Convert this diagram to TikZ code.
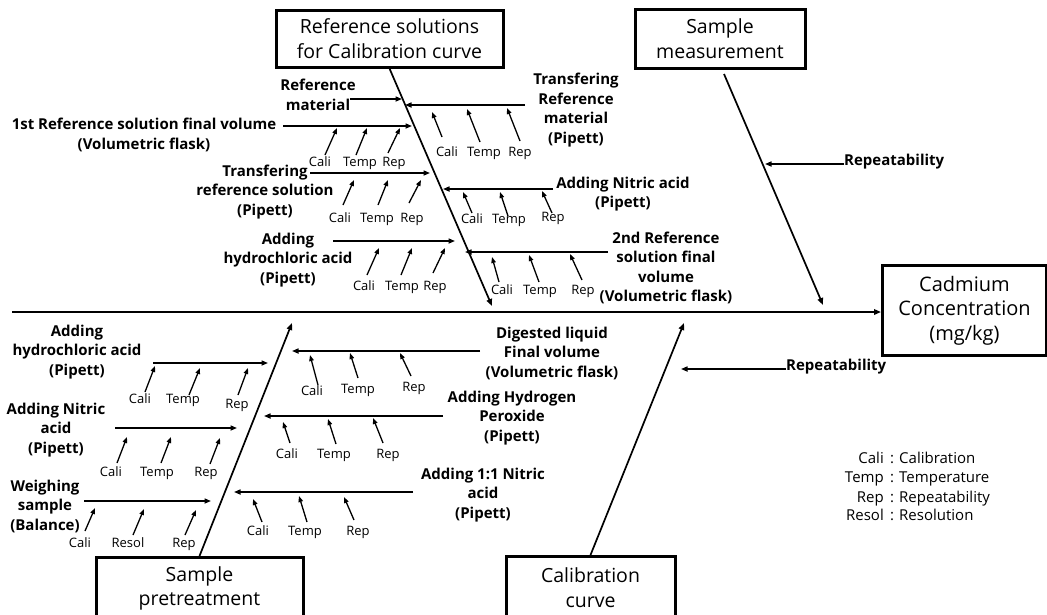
\documentclass[tikz,border=0pt]{standalone}
\usepackage{fontspec}
\setmainfont{Open Sans}
\usetikzlibrary{arrows.meta}
\newcommand\subar[5]{\coordinate (#1s) at (#2,#3); \coordinate (#1e) at (#4,#5); \draw[sub] (#1s) -- (#1e);}
\newcommand\tickar[5]{\coordinate (#1s) at (#2,#3); \coordinate (#1e) at (#4,#5); \draw[tk] (#1s) -- (#1e);}
\begin{document}
\begin{tikzpicture}[x=1pt,y=-1pt,
  lbl/.style={font=\bfseries\fontsize{15}{19.5}\selectfont, align=center, inner sep=0pt},
  sm/.style={font=\fontsize{13}{15}\selectfont, inner sep=0pt, anchor=mid},
  leg/.style={font=\fontsize{15}{19}\selectfont, inner sep=0pt},
  boxn/.style={draw, line width=3pt, font=\fontsize{19.5}{24.5}\selectfont, align=center, inner sep=0pt},
  bone/.style={line width=1.7pt, -{Triangle[length=7pt,width=5.5pt]}},
  sub/.style={line width=1.5pt, -{Triangle[length=6.5pt,width=5pt]}},
  tk/.style={line width=1.3pt, -{Triangle[length=6pt,width=4.5pt]}}]
\useasboundingbox (0,0) rectangle (1047,614);

% main boxes
\node[boxn, minimum width=227, minimum height=57] (ref) at (389.5,38.5) {Reference solutions\\for Calibration curve};
\node[boxn, minimum width=170, minimum height=59] (meas) at (720,38.5) {Sample\\measurement};
\node[boxn, minimum width=207, minimum height=62, anchor=north] (pre) at (199.5,556) {Sample\\pretreatment};
\node[boxn, minimum width=169, minimum height=62, anchor=north] (cal) at (590.5,555) {Calibration\\curve};
\node[boxn, font=\fontsize{20}{24.5}\selectfont, minimum width=164, minimum height=90, anchor=north west] (cad) at (881,264) {Cadmium\\Concentration\\(mg/kg)};

% spine and bones
\coordinate (spL) at (12,312);
\draw[bone] (spL) -- (spL -| cad.west);
\coordinate (refTip) at (492,306);
\draw[bone] (ref.south) -- (refTip);
\coordinate (measS) at (724,74);
\coordinate (measTip) at (823,305);
\draw[bone] (measS) -- (measTip);
\coordinate (preTip) at (292,323);
\draw[bone] (pre.north) -- (preTip);
\coordinate (calTip) at (684,323);
\draw[bone] (cal.north) -- (calTip);

% repeatability
\node[lbl, anchor=mid west] (rep1) at (844,163) {Repeatability};
\coordinate (rep1t) at (765,164);
\draw[sub] (rep1t -| rep1.west) -- (rep1t);
\node[lbl, anchor=mid west] (rep2) at (786,368) {Repeatability};
\coordinate (rep2t) at (681,369);
\draw[sub] (rep2t -| rep2.west) -- (rep2t);

% labels of sub-causes
\node[lbl] (la) at (318,95) {Reference\\material};
\node[lbl] (lb) at (144,135) {1st Reference solution final volume\\(Volumetric flask)};
\node[lbl] (lc) at (265,192) {Transfering\\reference solution\\(Pipett)};
\node[lbl] (ld) at (288,260) {Adding\\hydrochloric acid\\(Pipett)};
\node[lbl] (le) at (576,110) {Transfering\\Reference\\material\\(Pipett)};
\node[lbl] (lf) at (623,194) {Adding Nitric acid\\(Pipett)};
\node[lbl] (lg) at (666,268) {2nd Reference\\solution final\\volume\\(Volumetric flask)};
\node[lbl] (lh) at (77,352) {Adding\\hydrochloric acid\\(Pipett)};
\node[lbl] (li) at (56,430) {Adding Nitric\\acid\\(Pipett)};
\node[lbl] (lj) at (45,506) {Weighing\\sample\\(Balance)};
\node[lbl] (lk) at (552,353) {Digested liquid\\Final volume\\(Volumetric flask)};
\node[lbl] (ll) at (512,418) {Adding Hydrogen\\Peroxide\\(Pipett)};
\node[lbl] (lm) at (483,495) {Adding 1:1 Nitric\\acid\\(Pipett)};

% sub-cause arrows
\subar{a}{350}{99}{402}{99}
\subar{b}{283}{126}{412}{126}
\subar{c}{310}{173}{430}{173}
\subar{d}{333}{241}{455}{241}
\subar{e}{525}{105}{405}{105}
\subar{f}{553}{189}{443}{189}
\subar{g}{608}{252}{465}{252}
\subar{h}{153}{363}{268}{363}
\subar{i}{115}{428}{237}{428}
\subar{j}{84}{501}{211}{501}
\subar{k}{480}{351}{292}{351}
\subar{l}{443}{416}{264}{416}
\subar{m}{413}{492}{234}{492}

% small factor labels
\node[sm] (bC) at (320,164) {Cali}; \node[sm] (bT) at (360,164) {Temp}; \node[sm] (bR) at (394,164) {Rep};
\node[sm] (cC) at (340,220) {Cali}; \node[sm] (cT) at (377,220) {Temp}; \node[sm] (cR) at (412,220) {Rep};
\node[sm] (dC) at (364,288) {Cali}; \node[sm] (dT) at (402,288) {Temp}; \node[sm] (dR) at (435,288) {Rep};
\node[sm] (eC) at (447,154) {Cali}; \node[sm] (eT) at (484,154) {Temp}; \node[sm] (eR) at (520,154) {Rep};
\node[sm] (fC) at (472,221) {Cali}; \node[sm] (fT) at (509,221) {Temp}; \node[sm] (fR) at (553,219) {Rep};
\node[sm] (gC) at (502,292) {Cali}; \node[sm] (gT) at (540,292) {Temp}; \node[sm] (gR) at (583,292) {Rep};
\node[sm] (hC) at (140,401) {Cali}; \node[sm] (hT) at (183,401) {Temp}; \node[sm] (hR) at (237,406) {Rep};
\node[sm] (iC) at (111,474) {Cali}; \node[sm] (iT) at (157,474) {Temp}; \node[sm] (iR) at (206,474) {Rep};
\node[sm] (jC) at (80,545) {Cali}; \node[sm] (jS) at (128,545) {Resol}; \node[sm] (jR) at (184,545) {Rep};
\node[sm] (kC) at (312,393) {Cali}; \node[sm] (kT) at (358,391) {Temp}; \node[sm] (kR) at (414,389) {Rep};
\node[sm] (lC) at (287,456) {Cali}; \node[sm] (lT) at (334,456) {Temp}; \node[sm] (lR) at (388,456) {Rep};
\node[sm] (mC) at (258,533) {Cali}; \node[sm] (mT) at (305,533) {Temp}; \node[sm] (mR) at (358,533) {Rep};

% small factor arrows
\tickar{b1}{325}{155}{337}{128} \tickar{b2}{356}{155}{367}{128} \tickar{b3}{388}{153}{400}{128}
\tickar{c1}{343}{205}{354}{180} \tickar{c2}{378}{205}{388}{180} \tickar{c3}{409}{203}{421}{180}
\tickar{d1}{367}{275}{379}{248} \tickar{d2}{401}{275}{412}{248} \tickar{d3}{433}{273}{445}{248}
\tickar{e1}{442}{137}{432}{112} \tickar{e2}{480}{142}{467}{109} \tickar{e3}{520}{141}{507}{108}
\tickar{f1}{472}{213}{463}{192} \tickar{f2}{508}{216}{500}{192} \tickar{f3}{552}{213}{542}{191}
\tickar{g1}{499}{282}{492}{257} \tickar{g2}{539}{282}{529}{255} \tickar{g3}{582}{280}{570}{254}
\tickar{h1}{145}{392}{155}{366} \tickar{h2}{189}{395}{200}{368} \tickar{h3}{238}{395}{248}{368}
\tickar{i1}{117}{463}{127}{437} \tickar{i2}{161}{463}{171}{437} \tickar{i3}{210}{464}{220}{438}
\tickar{j1}{85}{531}{95}{508} \tickar{j2}{133}{535}{144}{509} \tickar{j3}{185}{535}{196}{510}
\tickar{k1}{318}{385}{310}{355} \tickar{k2}{358}{378}{350}{353} \tickar{k3}{411}{376}{400}{353}
\tickar{l1}{290}{443}{283}{422} \tickar{l2}{336}{444}{328}{419} \tickar{l3}{383}{443}{373}{418}
\tickar{m1}{262}{522}{253}{499} \tickar{m2}{307}{522}{299}{496} \tickar{m3}{354}{520}{344}{497}

% legend
\node[leg, anchor=mid east] (k1) at (884,461) {Cali};
\node[leg, anchor=mid] (c1) at (892,461) {:};
\node[leg, anchor=mid west] (v1) at (899,461) {Calibration};
\node[leg, anchor=mid east] (k2) at (884,480) {Temp};
\node[leg, anchor=mid] (c2) at (892,480) {:};
\node[leg, anchor=mid west] (v2) at (899,480) {Temperature};
\node[leg, anchor=mid east] (k3) at (884,500) {Rep};
\node[leg, anchor=mid] (c3) at (892,500) {:};
\node[leg, anchor=mid west] (v3) at (899,500) {Repeatability};
\node[leg, anchor=mid east] (k4) at (884,518) {Resol};
\node[leg, anchor=mid] (c4) at (892,518) {:};
\node[leg, anchor=mid west] (v4) at (899,518) {Resolution};
\end{tikzpicture}
\end{document}
